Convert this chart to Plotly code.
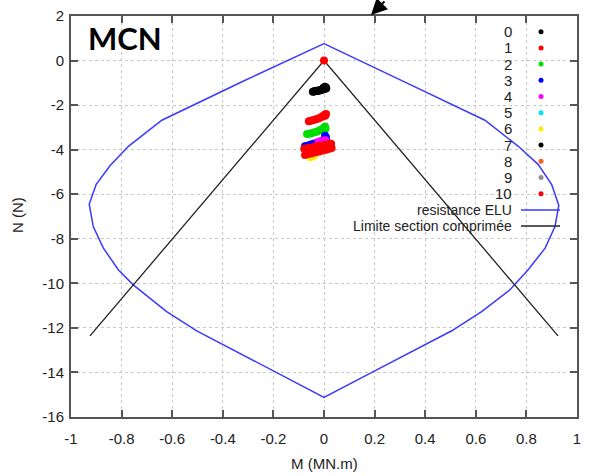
import plotly.graph_objects as go

# ---------------- data ----------------
# interaction curve "resistance ELU" (M in MN.m, N)
elu_m = [0.000, -0.320, -0.641, -0.773, -0.846, -0.901, -0.928, -0.912, -0.872, -0.813,
         -0.754, -0.622, -0.503, -0.250, 0.000, 0.195, 0.505, 0.623, 0.735, 0.807,
         0.874, 0.913, 0.928, 0.900, 0.847, 0.768, 0.636, 0.318, 0.000]
elu_n = [0.76, -0.93, -2.68, -3.85, -4.72, -5.57, -6.45, -7.45, -8.42, -9.39,
         -10.07, -11.27, -12.13, -13.62, -15.12, -13.96, -12.13, -11.27, -10.29, -9.39,
         -8.42, -7.45, -6.50, -5.57, -4.67, -3.85, -2.68, -0.96, 0.76]

# "Limite section comprimée"
lim_m = [-0.925, 0.0, 0.925]
lim_n = [-12.36, 0.0, -12.36]

series_names = ["0", "1", "2", "3", "4", "5", "6", "7", "8", "9", "10"]
series_colors = ["#000000", "#ff0000", "#00dd00", "#0000ff", "#ff00ff", "#00e5ee",
                 "#ffee00", "#000000", "#ff6020", "#909090", "#ff0000"]

s0_m = [-0.044, -0.037, -0.030, -0.022, -0.014, -0.007, 0.000, 0.005, 0.008, 0.004, -0.002]
s0_n = [-1.40, -1.38, -1.36, -1.35, -1.33, -1.30, -1.27, -1.25, -1.22, -1.18, -1.22]
s1_m = [-0.060, -0.052, -0.042, -0.032, -0.022, -0.012, -0.004, 0.003, 0.008, 0.005]
s1_n = [-2.72, -2.70, -2.67, -2.64, -2.60, -2.55, -2.49, -2.43, -2.40, -2.48]
s2_m = [-0.067, -0.057, -0.047, -0.037, -0.027, -0.017, -0.007, 0.000, 0.004, 0.002, 0.006]
s2_n = [-3.30, -3.28, -3.25, -3.22, -3.18, -3.13, -3.08, -3.02, -2.96, -3.15, -3.05]
s3_m = [-0.075, -0.066, -0.054, -0.042, -0.030, -0.017, -0.006, 0.002, 0.008, 0.004, 0.010]
s3_n = [-3.85, -3.82, -3.78, -3.74, -3.70, -3.65, -3.60, -3.55, -3.45, -3.38, -3.62]
s4_m = [-0.022, -0.012, -0.002, 0.006]
s4_n = [-3.65, -3.62, -3.60, -3.58]
s5_m = [-0.062, -0.032, -0.002]
s5_n = [-4.05, -3.95, -3.85]
s6_m = [-0.054, -0.047, -0.037]
s6_n = [-4.34, -4.30, -4.25]
s7_m = [-0.040, -0.032, -0.024, -0.016, -0.008, -0.001, 0.004, 0.009]
s7_n = [-1.39, -1.37, -1.35, -1.33, -1.31, -1.28, -1.26, -1.24]
s8_m = [-0.052, -0.022, 0.008]
s8_n = [-4.10, -4.00, -3.90]
s9_m = [-0.042, -0.012, 0.018]
s9_n = [-4.05, -3.95, -3.85]
s10_m = [0.000,
         -0.078, -0.064, -0.050, -0.036, -0.022, -0.008, 0.006, 0.018, 0.028,
         -0.075, -0.061, -0.047, -0.033, -0.019, -0.005, 0.009, 0.021, 0.030]
s10_n = [0.00,
         -3.96, -3.93, -3.90, -3.87, -3.84, -3.81, -3.78, -3.75, -3.73,
         -4.24, -4.20, -4.16, -4.12, -4.08, -4.04, -4.00, -3.96, -3.92]

series_m = [s0_m, s1_m, s2_m, s3_m, s4_m, s5_m, s6_m, s7_m, s8_m, s9_m, s10_m]
series_n = [s0_n, s1_n, s2_n, s3_n, s4_n, s5_n, s6_n, s7_n, s8_n, s9_n, s10_n]

x_ticks = [-1, -0.8, -0.6, -0.4, -0.2, 0, 0.2, 0.4, 0.6, 0.8, 1]
x_labels = ["-1", "-0.8", "-0.6", "-0.4", "-0.2", "0", "0.2", "0.4", "0.6", "0.8", "1"]
y_ticks = [2, 0, -2, -4, -6, -8, -10, -12, -14, -16]
y_labels = ["2", "0", "-2", "-4", "-6", "-8", "-10", "-12", "-14", "-16"]

# ---------------- figure ----------------
W, H = 590, 476
L, R, T, B = 71, 13, 16, 59
PW, PH = W - L - R, H - T - B

def px2paper_x(px):
    return (px - L) / PW

def py2paper_y(py):
    return (H - B - py) / PH

FONT = "Liberation Sans, Arial, sans-serif"
fig = go.Figure()

fig.add_trace(go.Scatter(x=elu_m, y=elu_n, mode="lines",
                         line=dict(color="#3a3aff", width=1.5), showlegend=False))
fig.add_trace(go.Scatter(x=lim_m, y=lim_n, mode="lines",
                         line=dict(color="#222222", width=1.3), showlegend=False))

for name, col, xm, yn in zip(series_names, series_colors, series_m, series_n):
    fig.add_trace(go.Scatter(x=xm, y=yn, mode="markers", name=name,
                             marker=dict(color=col, size=8, line=dict(width=0)),
                             showlegend=False))

annotations = []
shapes = []
# custom gnuplot-style legend
row0, dy = 31.7, 16.2
text_right = px2paper_x(514)
for i, (name, col) in enumerate(zip(series_names, series_colors)):
    py = row0 + dy * i
    annotations.append(dict(x=text_right, y=py2paper_y(py), xref="paper", yref="paper",
                            text=name, showarrow=False, xanchor="right", yanchor="middle",
                            font=dict(family=FONT, size=15, color="#222222")))
    shapes.append(dict(type="circle", xref="paper", yref="paper",
                       xsizemode="pixel", ysizemode="pixel",
                       xanchor=px2paper_x(541), yanchor=py2paper_y(py),
                       x0=-2.5, x1=2.5, y0=-2.5, y1=2.5,
                       fillcolor=col, line=dict(width=0)))
line_entries = [("resistance ELU", "#3a3aff"), ("Limite section comprimée", "#222222")]
for j, (name, col) in enumerate(line_entries):
    py = row0 + dy * (11 + j)
    annotations.append(dict(x=text_right, y=py2paper_y(py), xref="paper", yref="paper",
                            text=name, showarrow=False, xanchor="right", yanchor="middle",
                            font=dict(family=FONT, size=14, color="#222222")))
    shapes.append(dict(type="line", xref="paper", yref="paper",
                       x0=px2paper_x(521), x1=px2paper_x(560),
                       y0=py2paper_y(py), y1=py2paper_y(py),
                       line=dict(color=col, width=1.5)))

# title label
annotations.append(dict(x=px2paper_x(86), y=py2paper_y(38), xref="paper", yref="paper",
                        text="<b>MCN</b>", showarrow=False, xanchor="left", yanchor="middle",
                        font=dict(family="Lato, Open Sans, sans-serif", size=31, color="#000000")))
# axis titles
annotations.append(dict(x=0.5, y=py2paper_y(463), xref="paper", yref="paper",
                        text="M (MN.m)", showarrow=False, xanchor="center", yanchor="middle",
                        font=dict(family=FONT, size=15, color="#222222")))
annotations.append(dict(x=px2paper_x(18), y=py2paper_y(215), xref="paper", yref="paper",
                        text="N (N)", showarrow=False, xanchor="center", yanchor="middle",
                        textangle=-90, font=dict(family=FONT, size=15, color="#222222")))
# arrow at top (paper coords so it is not hidden outside the axis range)
annotations.append(dict(x=px2paper_x(371), y=py2paper_y(15), xref="paper", yref="paper",
                        text="", showarrow=True,
                        ax=15, ay=-18, arrowhead=2, arrowsize=1.6, arrowwidth=2,
                        arrowcolor="#000000"))

axis_common = dict(showline=True, mirror="ticks", linecolor="#555555", linewidth=2,
                   ticks="inside", ticklen=7, tickwidth=1.5, tickcolor="#555555",
                   showgrid=True, gridcolor="#c8c8c8", griddash="dot", gridwidth=1,
                   zeroline=False, automargin=False,
                   tickfont=dict(family=FONT, size=15, color="#222222"))

fig.update_xaxes(range=[-1, 1], tickvals=x_ticks, ticktext=x_labels,
                 ticklabelstandoff=7, **axis_common)
fig.update_yaxes(range=[-16, 2], tickvals=y_ticks, ticktext=y_labels,
                 ticklabelstandoff=2, **axis_common)

fig.update_layout(width=W, height=H,
                  margin=dict(l=L, r=R, t=T, b=B, autoexpand=False),
                  paper_bgcolor="white", plot_bgcolor="white",
                  showlegend=False, annotations=annotations, shapes=shapes)

fig.write_html("out.html")
